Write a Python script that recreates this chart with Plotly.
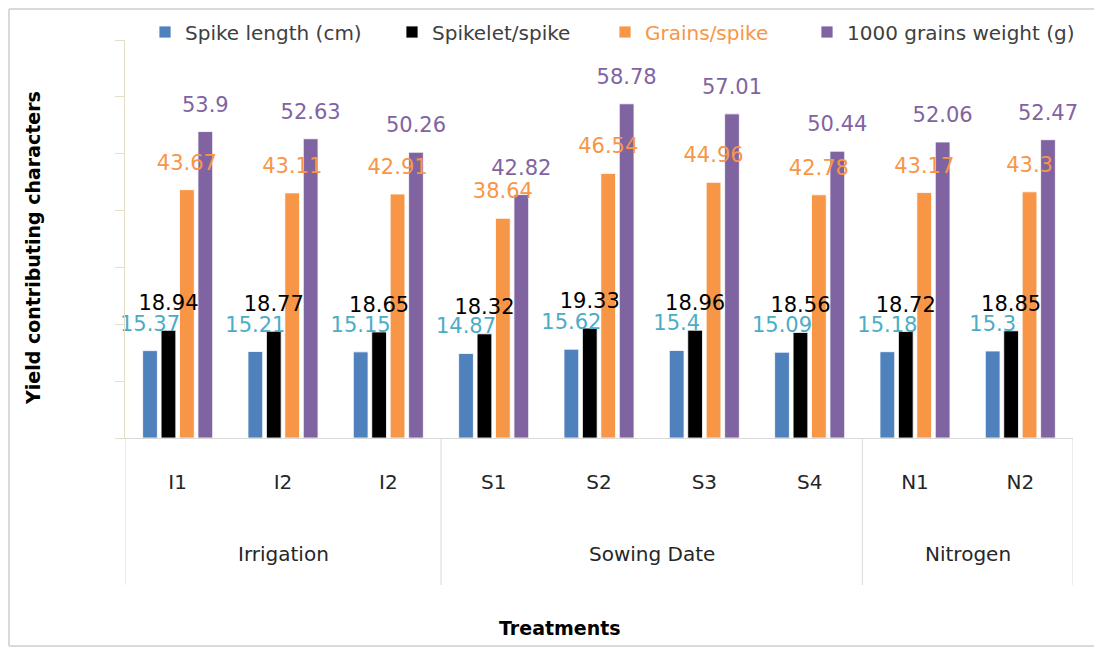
import plotly.graph_objects as go

# ---------------- data ----------------
treatments = ["I1", "I2", "I2", "S1", "S2", "S3", "S4", "N1", "N2"]
groups = ["Irrigation", "Sowing Date", "Nitrogen"]
group_sizes = [3, 4, 2]

spike_length = [15.37, 15.21, 15.15, 14.87, 15.62, 15.40, 15.09, 15.18, 15.30]
spikelet_spike = [18.94, 18.77, 18.65, 18.32, 19.33, 18.96, 18.56, 18.72, 18.85]
grains_spike = [43.67, 43.11, 42.91, 38.64, 46.54, 44.96, 42.78, 43.17, 43.30]
grain_weight = [53.90, 52.63, 50.26, 42.82, 58.78, 57.01, 50.44, 52.06, 52.47]
labels_text = {
    "spike": ["15.37", "15.21", "15.15", "14.87", "15.62", "15.4", "15.09", "15.18", "15.3"],
    "spikelet": ["18.94", "18.77", "18.65", "18.32", "19.33", "18.96", "18.56", "18.72", "18.85"],
    "grains": ["43.67", "43.11", "42.91", "38.64", "46.54", "44.96", "42.78", "43.17", "43.3"],
    "weight": ["53.9", "52.63", "50.26", "42.82", "58.78", "57.01", "50.44", "52.06", "52.47"],
}

series = [
    ("Spike length (cm)", spike_length, "#4f81bd", "#4bacc6", "spike", "legend", 145),
    ("Spikelet/spike", spikelet_spike, "#000000", "#000000", "spikelet", "legend2", 392),
    ('<span style="color:#f79646">Grains/spike</span>', grains_spike, "#f79646", "#f79646", "grains", "legend3", 605),
    ("1000 grains weight (g)", grain_weight, "#8064a2", "#8064a2", "weight", "legend4", 807),
]

FONT = "DejaVu Sans"
xs = list(range(len(treatments)))

# page-pixel geometry of the plot area (page has an 8px body margin)
PX0, PX1, PY0, PY1 = 125, 1073, 40, 438
W, H = 1094, 641
L, T = PX0 - 8, PY0 - 8
R = W - L - (PX1 - PX0)
B = H - T - (PY1 - PY0)

def px_(x):
    return (x - PX0) / (PX1 - PX0)

def py(y):
    return (PY1 - y) / (PY1 - PY0)

fig = go.Figure()
for name, vals, col, lcol, key, leg, lx in series:
    fig.add_trace(go.Bar(
        x=xs, y=vals, name=name, legend=leg,
        marker=dict(color=col, line=dict(color="rgba(255,255,255,0.8)", width=1)),
    ))
for name, vals, col, lcol, key, leg, lx in series:
    fig.add_trace(go.Scatter(
        x=xs, y=vals, mode="markers+text", text=labels_text[key],
        textposition="top center", showlegend=False, hoverinfo="skip",
        marker=dict(size=22, opacity=0),
        textfont=dict(family=FONT, size=21, color=lcol),
        cliponaxis=False,
    ))

legend_common = dict(orientation="h", xanchor="left", y=py(32), yanchor="middle",
                     font=dict(family=FONT, size=20, color="#404040"),
                     bgcolor="rgba(0,0,0,0)", itemwidth=30)
legends = {}
for name, vals, col, lcol, key, leg, lx in series:
    legends[leg] = dict(legend_common, x=px_(lx))

fig.update_layout(
    width=W, height=H,
    margin=dict(l=L, r=R, t=T, b=B, autoexpand=False),
    paper_bgcolor="white", plot_bgcolor="white",
    barmode="group", bargap=0.3, bargroupgap=0.2,
    scattermode="group", scattergap=0.3,
    font=dict(family=FONT, size=19, color="#404040"),
    showlegend=True,
    **legends,
)
fig.update_yaxes(range=[0, 70], dtick=10, showgrid=False, zeroline=False,
                 showline=True, linecolor="#e2dfc6", linewidth=1,
                 ticks="outside", ticklen=9, tickcolor="#e2dfc6",
                 showticklabels=False)
fig.update_xaxes(range=[-0.5, len(treatments) - 0.5], tickvals=xs, ticktext=treatments,
                 showgrid=False, zeroline=False, showline=True, linecolor="#d9d9d9",
                 linewidth=1, ticks="", ticklabelstandoff=26,
                 tickfont=dict(family=FONT, size=20, color="#262626"))

# group dividers and labels
bounds = [-0.5]
for s in group_sizes:
    bounds.append(bounds[-1] + s)
for b in bounds:
    fig.add_shape(type="line", xref="x", yref="paper", x0=b, x1=b, y0=0, y1=py(585),
                  line=dict(color="#d9d9d9", width=1))
for g, a, b in zip(groups, bounds[:-1], bounds[1:]):
    fig.add_annotation(x=(a + b) / 2, xref="x", y=py(554), yref="paper", text=g,
                       xanchor="center", yanchor="middle", showarrow=False,
                       font=dict(family=FONT, size=20, color="#262626"))

fig.add_annotation(x=px_(560), xref="paper", y=py(628), yref="paper",
                   text="<b>Treatments</b>", showarrow=False,
                   xanchor="center", yanchor="middle",
                   font=dict(family=FONT, size=19, color="#000000"))
fig.add_annotation(x=px_(33), xref="paper", y=py(248), yref="paper",
                   text="<b>Yield contributing characters</b>", textangle=-90, showarrow=False,
                   xanchor="center", yanchor="middle",
                   font=dict(family=FONT, size=19, color="#000000"))

# outer chart border (left, top, bottom edges visible; right edge lies off-image)
border = dict(color="#d9d9d9", width=2)
fig.add_shape(type="line", xref="paper", yref="paper", x0=px_(9), x1=px_(9),
              y0=py(646), y1=py(9), line=border, layer="below")
fig.add_shape(type="line", xref="paper", yref="paper", x0=px_(9), x1=px_(1102),
              y0=py(9), y1=py(9), line=border, layer="below")
fig.add_shape(type="line", xref="paper", yref="paper", x0=px_(9), x1=px_(1102),
              y0=py(646), y1=py(646), line=border, layer="below")

fig.write_html("out.html")
